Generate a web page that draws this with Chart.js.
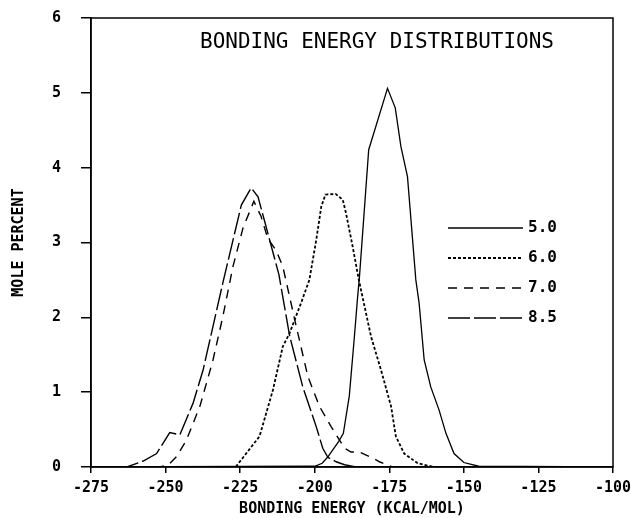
<!DOCTYPE html>
<html>
<head>
<meta charset="utf-8">
<script src="https://cdn.jsdelivr.net/npm/chart.js@4/dist/chart.umd.min.js"></script>
<style>
  html, body { margin: 0; padding: 0; background: #fff; }
  #wrap { width: 631px; height: 518px; }
</style>
</head>
<body>
<div id="wrap"><canvas id="energyChart" width="631" height="518"></canvas></div>
<script>
// bonding energy (kcal/mol) and mole percent
const energy50 = [-275, -200, -197.5, -195.7, -192, -190.4, -188.4, -186.7, -185.6, -185, -181.9, -175.6, -173, -171.1, -168.9, -166.1, -165, -163.3, -161.1, -158.3, -156, -153.3, -150, -145, -100];
const mole50   = [0, 0.01, 0.05, 0.13, 0.34, 0.45, 0.95, 1.74, 2.28, 2.54, 4.24, 5.06, 4.80, 4.28, 3.88, 2.5, 2.19, 1.43, 1.07, 0.76, 0.45, 0.18, 0.06, 0.01, 0];

const energy60 = [-275, -226.5, -218.5, -214, -210.7, -208.4, -204.5, -201.8, -199.5, -197.8, -196.4, -193, -190.6, -189.5, -187.3, -185.3, -184.5, -181.1, -177.8, -174.4, -172.8, -170, -165.5, -160, -100];
const mole60   = [0, 0, 0.41, 1.03, 1.61, 1.79, 2.2, 2.5, 3.03, 3.48, 3.64, 3.65, 3.57, 3.39, 2.95, 2.52, 2.37, 1.74, 1.30, 0.81, 0.41, 0.18, 0.05, 0, 0];

const energy70 = [-275, -252, -249, -246.3, -243, -238.5, -234.1, -230.8, -227.4, -224, -220.4, -218, -215.7, -213, -210.7, -206.2, -202.3, -198.4, -194.5, -190, -187.8, -185, -180.6, -178.3, -174, -100];
const mole70   = [0, 0, 0.03, 0.14, 0.36, 0.81, 1.43, 2.01, 2.68, 3.2, 3.55, 3.35, 3.05, 2.9, 2.68, 1.88, 1.21, 0.81, 0.54, 0.25, 0.2, 0.2, 0.12, 0.07, 0, 0];

const energy85 = [-275, -263, -257.5, -253, -248.6, -245.2, -240.8, -237.4, -234.1, -230.8, -225.2, -224.6, -221.3, -219, -216.3, -212, -208.4, -204, -199.5, -197.3, -195.6, -192.8, -190, -186, -100];
const mole85   = [0, 0, 0.08, 0.18, 0.46, 0.43, 0.85, 1.30, 1.88, 2.46, 3.4, 3.50, 3.73, 3.61, 3.21, 2.57, 1.75, 1.07, 0.54, 0.25, 0.13, 0.07, 0.03, 0, 0];

const seriesLabels = ['5.0', '6.0', '7.0', '8.5'];
const xTicks = [-275, -250, -225, -200, -175, -150, -125, -100];
const yTicks = [0, 1, 2, 3, 4, 5, 6];

const FONT = '"DejaVu Sans Mono", monospace';

const toPoints = (xs, ys) => xs.map((x, i) => ({ x: x, y: ys[i] }));

const dashes = [[], [3, 2], [9, 7], [22, 4]];
const widths = [1.3, 1.8, 1.4, 1.4];
const allSeries = [[energy50, mole50], [energy60, mole60], [energy70, mole70], [energy85, mole85]];

const datasets = allSeries.map((s, i) => ({
  label: seriesLabels[i],
  data: toPoints(s[0], s[1]),
  borderColor: '#000',
  borderWidth: widths[i],
  borderDash: dashes[i],
  pointRadius: 0,
  tension: 0,
  fill: false,
}));

// box round the plot area
const framePlugin = {
  id: 'frame',
  afterDraw(chart) {
    const { ctx, chartArea: a } = chart;
    ctx.save();
    ctx.strokeStyle = '#000';
    ctx.lineWidth = 1.5;
    ctx.strokeRect(a.left, a.top, a.right - a.left, a.bottom - a.top);
    ctx.restore();
  }
};

// title written inside the plot and the dash-pattern legend
const insideTextPlugin = {
  id: 'insideText',
  afterDatasetsDraw(chart) {
    const { ctx, chartArea: a } = chart;
    ctx.save();
    ctx.fillStyle = '#000';
    ctx.font = '21px ' + FONT;
    ctx.textAlign = 'left';
    ctx.textBaseline = 'middle';
    ctx.fillText('BONDING ENERGY DISTRIBUTIONS', a.left + 109, a.top + 25);

    ctx.font = 'bold 16px ' + FONT;
    chart.data.datasets.forEach((ds, i) => {
      const y = a.top + 210 + i * 30;
      ctx.beginPath();
      ctx.setLineDash(ds.borderDash);
      ctx.lineWidth = ds.borderWidth;
      ctx.strokeStyle = '#000';
      ctx.moveTo(a.left + 357, y);
      ctx.lineTo(a.left + 432, y);
      ctx.stroke();
      ctx.fillText(ds.label, a.left + 437, y);
    });
    ctx.restore();
  }
};

new Chart(document.getElementById('energyChart'), {
  type: 'line',
  data: { datasets: datasets },
  options: {
    responsive: false,
    animation: false,
    layout: { padding: { top: 18, right: 18, left: 0, bottom: 0 } },
    plugins: { legend: { display: false }, tooltip: { enabled: false } },
    scales: {
      x: {
        type: 'linear',
        min: -275,
        max: -100,
        afterBuildTicks: s => { s.ticks = xTicks.map(v => ({ value: v })); },
        afterFit: s => { s.height = 51; s.paddingLeft = 0; s.paddingRight = 0; },
        grid: { drawOnChartArea: false, color: '#000', tickLength: 6, lineWidth: 1.5 },
        border: { color: '#000', width: 1.5 },
        ticks: { color: '#000', padding: 6, maxRotation: 0, font: { family: FONT, size: 15, weight: 'bold' } },
        title: {
          display: true,
          text: 'BONDING ENERGY (KCAL/MOL)',
          color: '#000',
          padding: 0,
          font: { family: FONT, size: 15, weight: 'bold' }
        }
      },
      y: {
        min: 0,
        max: 6,
        afterBuildTicks: s => { s.ticks = yTicks.map(v => ({ value: v })); },
        afterFit: s => { s.width = 91; s.paddingTop = 0; s.paddingBottom = 0; },
        grid: { drawOnChartArea: false, color: '#000', tickLength: 10, lineWidth: 1.5 },
        border: { color: '#000', width: 1.5 },
        ticks: { color: '#000', padding: 20, font: { family: FONT, size: 15, weight: 'bold' } },
        title: {
          display: true,
          text: 'MOLE PERCENT',
          color: '#000',
          padding: { top: 10, bottom: 0 },
          font: { family: FONT, size: 15, weight: 'bold' }
        }
      }
    }
  },
  plugins: [framePlugin, insideTextPlugin]
});
</script>
</body>
</html>
